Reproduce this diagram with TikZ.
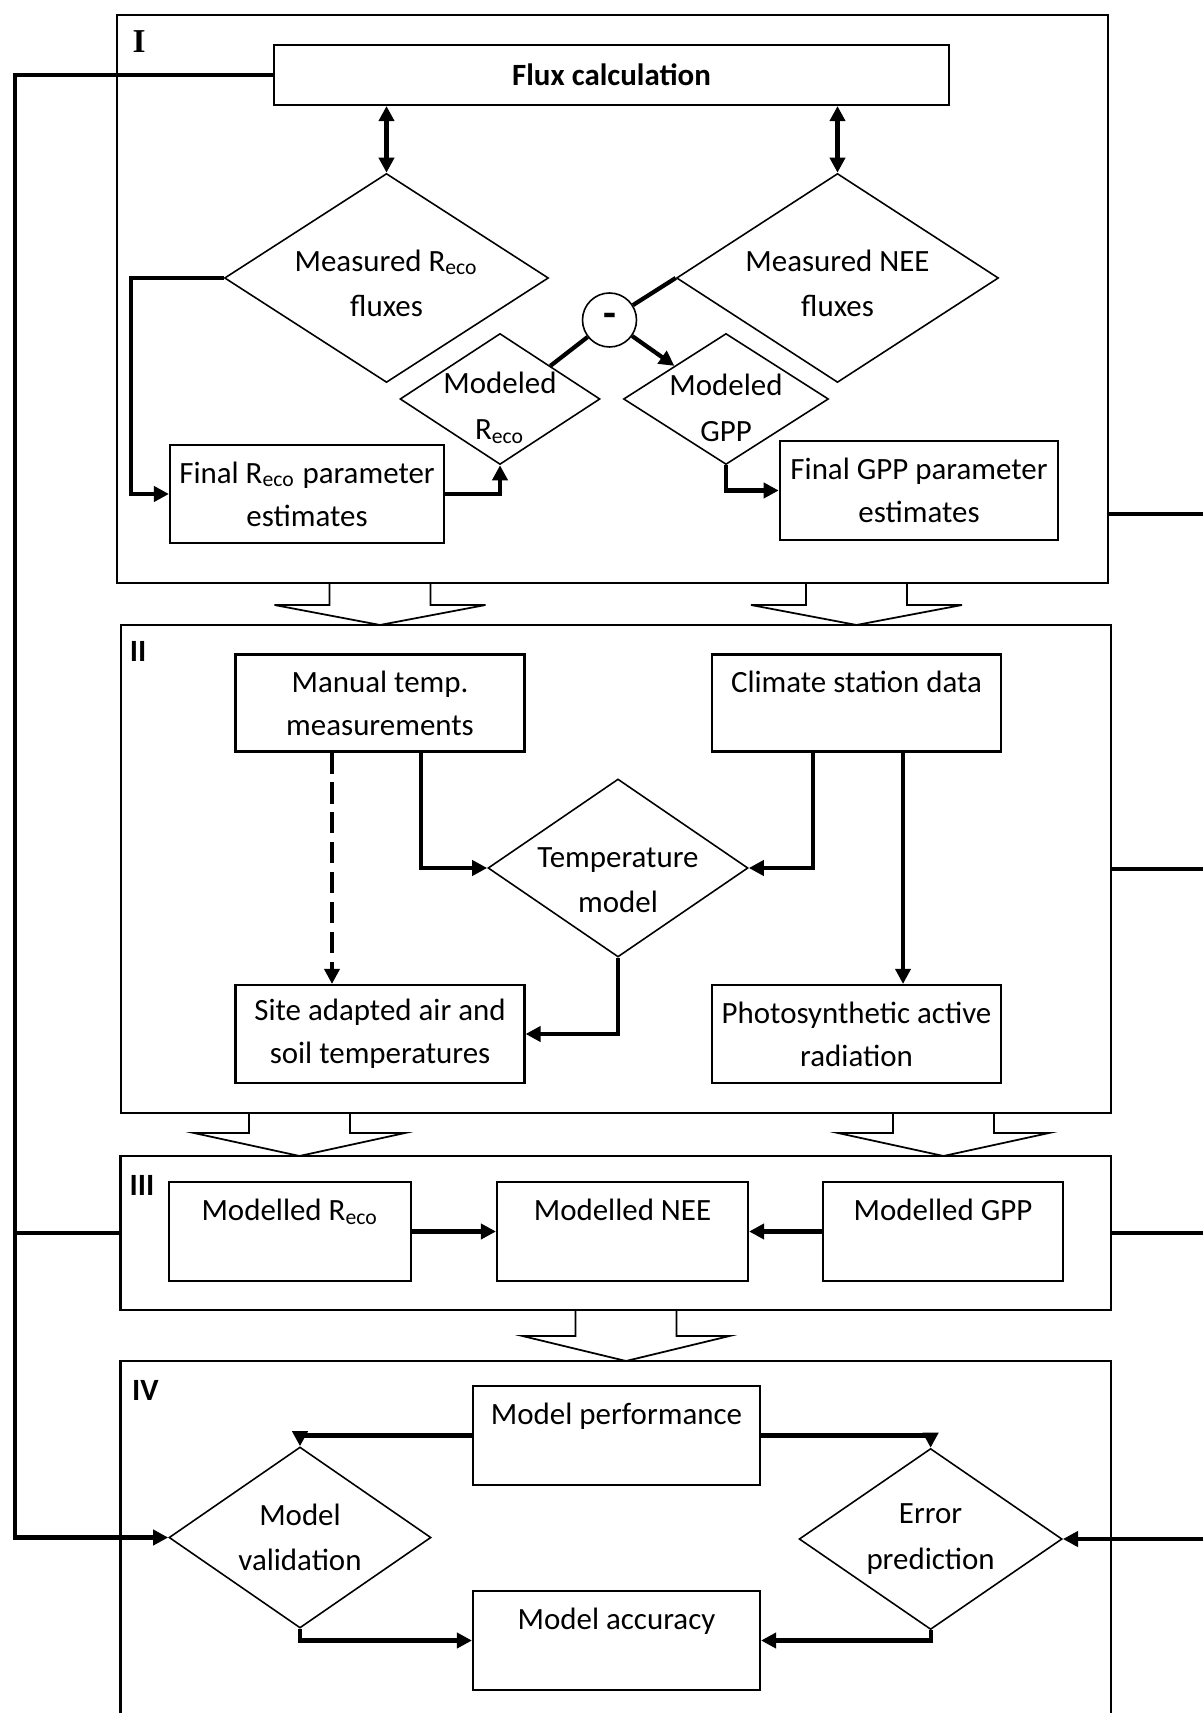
\documentclass[tikz,border=0pt]{standalone}
\usepackage{fontspec}
\setmainfont{Carlito}
\newfontfamily\romanI{Liberation Serif}
\usetikzlibrary{shapes.geometric,arrows.meta,positioning,fit}

\begin{document}
\begin{tikzpicture}[y=-1cm, >={Triangle[length=4.3pt,width=4.3pt]}, font=\fontsize{8.8}{12.2}\selectfont]

        \useasboundingbox (0,0) rectangle (12.03,17.13);
        \clip (0,0) rectangle (12.03,17.13);
        \tikzset{
            panel/.style={draw, line width=0.6pt, inner sep=0pt},
            box/.style={draw, line width=0.6pt, align=center, inner sep=1pt},
            decision/.style={draw, diamond, line width=0.45pt, inner sep=0pt},
            dtext/.style={align=center, font=\fontsize{8.8}{13}\selectfont},
            tag/.style={font=\fontsize{8.8}{10}\selectfont\bfseries},
            hollow/.style={draw, line width=0.5pt},
            arrow/.style={->, line width=1.2pt},
            thinarrow/.style={->, line width=1pt},
            dbl/.style={<->, line width=1.2pt},
            line/.style={line width=1.2pt}
        }

        % panels
        \node[panel, fit={(1.17,0.15) (11.08,5.83)}] (pI) {};
        \node[panel, fit={(1.21,6.25) (11.11,11.13)}] (pII) {};
        \node[panel, fit={(1.205,11.56) (11.11,13.10)}] (pIII) {};
        \node[panel, fit={(1.205,13.61) (11.11,17.6)}] (pIV) {};

        \node[tag, font=\fontsize{9.5}{10}\selectfont\romanI\bfseries] (tI) at (1.39,0.42) {I};
        \node[tag] (tII) at (1.38,6.51) {II};
        \node[tag] (tIII) at (1.42,11.85) {III};
        \node[tag] (tIV) at (1.455,13.90) {IV};

        \draw[hollow] (3.295,5.83) -- ++(0,0.22) -- ++(-0.55,0) -- ++(1.055,0.20) -- ++(1.055,-0.20) -- ++(-0.55,0) -- ++(0,-0.22);
        \draw[hollow] (8.06,5.83) -- ++(0,0.22) -- ++(-0.55,0) -- ++(1.055,0.20) -- ++(1.055,-0.20) -- ++(-0.55,0) -- ++(0,-0.22);
        \draw[hollow] (2.49,11.13) -- ++(0,0.20) -- ++(-0.55,0) -- ++(1.055,0.23) -- ++(1.055,-0.23) -- ++(-0.55,0) -- ++(0,-0.20);
        \draw[hollow] (8.93,11.13) -- ++(0,0.20) -- ++(-0.55,0) -- ++(1.055,0.23) -- ++(1.055,-0.23) -- ++(-0.55,0) -- ++(0,-0.20);
        \draw[hollow] (5.755,13.10) -- ++(0,0.26) -- ++(-0.53,0) -- ++(1.035,0.25) -- ++(1.035,-0.25) -- ++(-0.53,0) -- ++(0,-0.26);

        % I
        \node[box, minimum width=6.75cm, minimum height=0.60cm] (flux) at (6.115,0.75) {\textbf{Flux calculation}};
        \node[decision, minimum width=3.24cm, minimum height=2.09cm, label={[dtext, yshift=-1.5pt]center:Measured R\textsubscript{eco}\\fluxes}] (mreco) at (3.865,2.78) {};
        \node[decision, minimum width=3.22cm, minimum height=2.09cm, label={[dtext, yshift=-1.5pt]center:Measured NEE\\fluxes}] (mnee) at (8.375,2.78) {};
        \node[decision, minimum width=2.0cm, minimum height=1.31cm, label={[dtext, yshift=-2.5pt]center:Modeled\\R\textsubscript{eco}}] (mdreco) at (5.0,3.99) {};
        \node[decision, minimum width=2.05cm, minimum height=1.31cm, label={[dtext, yshift=-2.5pt]center:Modeled\\GPP}] (mdgpp) at (7.26,3.99) {};
        \node[circle, draw, line width=0.45pt, minimum size=0.54cm, inner sep=0pt, font=\fontsize{12}{12}\selectfont\bfseries] (minus) at (6.095,3.20) {-};
        \node[box, minimum width=2.74cm, minimum height=0.98cm] (freco) at (3.07,4.94) {Final R\textsubscript{eco} parameter\\estimates};
        \node[box, minimum width=2.785cm, minimum height=0.99cm] (fgpp) at (9.19,4.905) {Final GPP parameter\\estimates};

        \draw[dbl] (flux.south -| mreco.north) -- (mreco.north);
        \draw[dbl] (flux.south -| mnee.north) -- (mnee.north);
        \draw[arrow] (mreco.west) -- ++(-0.93,0) |- (freco.west);
        \draw[arrow] (freco.east) -| (mdreco.south);
        \draw[line] (mdreco.north east) -- (minus);
        \draw[line] (minus) -- (mnee.west);
        \draw[arrow] (minus) -- (mdgpp.north west);
        \draw[arrow] (mdgpp.south) |- (fgpp.west);

        % II
        \node[box, minimum width=2.89cm, minimum height=0.97cm] (manual) at (3.80,7.03) {Manual temp.\\measurements};
        \node[box, minimum width=2.89cm, minimum height=0.97cm] (climate) at (8.565,7.03) {Climate station data\\\mbox{}};
        \node[decision, minimum width=2.60cm, minimum height=1.78cm, label={[dtext, yshift=-3.5pt]center:Temperature\\model}] (temp) at (6.18,8.68) {};
        \node[box, minimum width=2.89cm, minimum height=0.98cm] (site) at (3.80,10.34) {Site adapted air and\\soil temperatures};
        \node[box, minimum width=2.89cm, minimum height=0.98cm] (par) at (8.565,10.34) {Photosynthetic active\\radiation};

        \draw[arrow] ([xshift=4.1mm]manual.south) |- (temp.west);
        \draw[thinarrow, dash pattern=on 6pt off 2.5pt] ([xshift=-4.8mm]manual.south) -- ([xshift=-4.8mm]site.north);
        \draw[arrow] ([xshift=-4.35mm]climate.south) |- (temp.east);
        \draw[thinarrow] ([xshift=4.65mm]climate.south) -- ([xshift=4.65mm]par.north);
        \draw[arrow] (temp.south) |- (site.east);

        % III
        \node[box, minimum width=2.42cm, minimum height=0.99cm] (reco) at (2.90,12.315) {Modelled R\textsubscript{eco}\\\mbox{}};
        \node[box, minimum width=2.51cm, minimum height=0.99cm] (nee) at (6.225,12.315) {Modelled NEE\\\mbox{}};
        \node[box, minimum width=2.40cm, minimum height=0.99cm] (gpp) at (9.43,12.315) {Modelled GPP\\\mbox{}};

        \draw[arrow] (reco.east) -- (nee.west);
        \draw[arrow] (gpp.west) -- (nee.east);

        % IV
        \node[box, minimum width=2.87cm, minimum height=0.99cm] (perf) at (6.165,14.355) {Model performance\\\mbox{}};
        \node[box, minimum width=2.87cm, minimum height=0.99cm] (acc) at (6.165,16.405) {Model accuracy\\\mbox{}};
        \node[decision, minimum width=2.62cm, minimum height=1.81cm, label={[dtext]center:Model\\validation}] (mval) at (3.0,15.375) {};
        \node[decision, minimum width=2.63cm, minimum height=1.81cm, label={[dtext]center:Error\\prediction}] (merr) at (9.306,15.39) {};

        \draw[arrow] (perf.west) -| (mval.north);
        \draw[arrow] (perf.east) -| (merr.north);
        \draw[arrow] (mval.south) |- (acc.west);
        \draw[arrow] (merr.south) |- (acc.east);

        % links to the outside
        \coordinate (lx) at (0.153,8);
        \coordinate (rx) at (12.03,8);
        \coordinate (rI) at (12.03,5.14);
        \draw[arrow] (flux.west) -| (lx) |- (mval.west);
        \draw[line] (pIII.west) -- (pIII.west -| lx);
        \draw[line] (rI -| pI.east) -- (rI);
        \draw[line] (pII.east) -- (pII.east -| rx);
        \draw[line] (pIII.east) -- (pIII.east -| rx);
        \draw[arrow] (merr.east -| rx) -- (merr.east);

    \end{tikzpicture}
\end{document}
